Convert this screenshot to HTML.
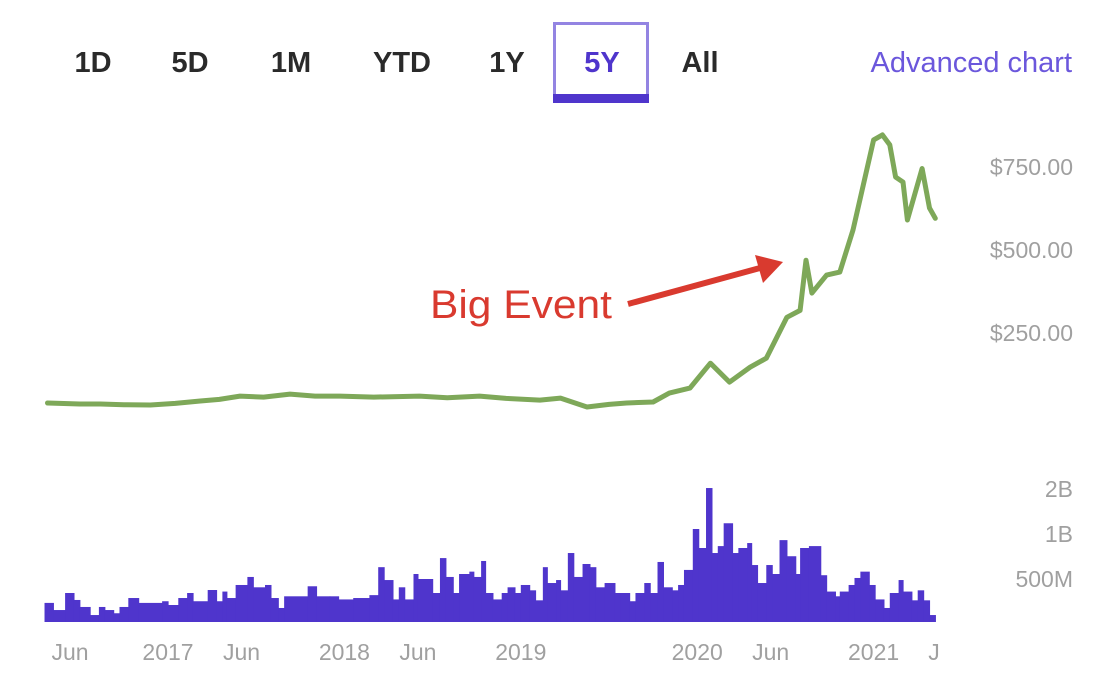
<!DOCTYPE html>
<html><head><meta charset="utf-8"><style>
body{margin:0;width:1098px;height:680px;background:#fff;overflow:hidden;font-family:"Liberation Sans",sans-serif}
svg{display:block}
</style></head><body>
<svg width="1098" height="680" viewBox="0 0 1098 680">
<g font-weight="bold" font-size="29" fill="#2a2a2a" text-anchor="middle">
<text x="93" y="72">1D</text>
<text x="190" y="72">5D</text>
<text x="291" y="72">1M</text>
<text x="402" y="72">YTD</text>
<text x="507" y="72">1Y</text>
<g>
<rect x="554.5" y="23.5" width="93" height="77" fill="none" stroke="#9384e2" stroke-width="3"/>
<rect x="553" y="94" width="96" height="9" fill="#4f35cc"/>
<text x="602" y="72" fill="#4f35cc">5Y</text>
</g>
<text x="700" y="72">All</text>
</g>
<text x="1072" y="72" text-anchor="end" font-size="29" fill="#6b57dc">Advanced chart</text>
<g id="yax" font-size="23" fill="#a0a0a0" text-anchor="end"></g>
<g id="vax" font-size="23" fill="#a0a0a0" text-anchor="end"></g>
<g id="xax" font-size="23" fill="#a0a0a0" text-anchor="middle"></g>
<g id="vol" fill="#4f35cc"></g>
<path id="line" fill="none" stroke="#7ea859" stroke-width="5" stroke-linejoin="round" stroke-linecap="round"/>
<text x="430" y="318" font-size="40" textLength="182" lengthAdjust="spacingAndGlyphs" fill="#d93a2f">Big Event</text>
<g>
<line x1="628" y1="304" x2="760" y2="268" stroke="#d93a2f" stroke-width="6"/>
<polygon points="783,262 755,255 763,283" fill="#d93a2f"/>
</g>
</svg>
<script>
// months since Jan 2017
const priceMonths=[-8.2,-6,-4.6,-3,-1.2,0.5,2.2,3.5,4.9,6.5,8.3,10,11.7,14,17.1,19,21.2,23,25.3,26.7,28.5,30,31.2,33.0,34.1,35.5,36.9,38.2,39.6,40.7,42.1,43.0,43.4,43.8,44.8,45.7,46.6,48.0,48.6,49.1,49.5,50.0,50.3,51.3,51.8,52.2];
const prices=[39,36,36,34,33,38,45,50,60,57,66,60,60,57,60,55,60,53,48,54,27,35,39,42,69,84,159,102,147,174,297,318,469,370,424,433,560,831,846,816,719,704,590,745,626,595];
const volMonths=[-8.4,-7.8,-7.0,-6.4,-6.0,-5.3,-4.7,-4.3,-3.7,-3.3,-2.7,-2.0,-0.4,0.0,0.7,1.3,1.7,2.7,3.3,3.7,4.0,4.6,5.4,5.8,6.6,7.0,7.5,7.9,9.5,10.1,11.0,11.6,12.6,13.7,14.3,14.7,15.3,15.7,16.1,16.7,17.0,18.0,18.5,18.9,19.4,19.8,20.5,20.8,21.3,21.6,22.1,22.7,23.1,23.6,24.0,24.6,25.0,25.5,25.8,26.4,26.7,27.2,27.6,28.2,28.7,29.1,29.7,30.4,30.8,31.4,31.8,32.4,32.8,33.3,33.7,34.3,34.7,35.1,35.7,36.1,36.6,37.0,37.4,37.8,38.4,38.8,39.4,39.7,40.1,40.7,41.1,41.6,42.1,42.7,43.0,43.6,44.4,44.8,45.4,45.7,46.3,46.7,47.1,47.7,48.1,48.7,49.1,49.7,50.0,50.6,51.0,51.4,51.8,52.2];
const volumes=[346,310,403,362,325,287,325,310,295,325,373,346,355,335,373,403,355,422,355,412,373,456,516,440,456,373,320,383,447,383,383,365,373,390,600,492,365,440,365,540,500,403,690,516,403,540,560,516,660,403,365,403,440,403,456,420,360,600,470,492,420,746,516,630,600,440,470,403,403,355,403,470,403,650,440,420,456,575,1080,806,2030,746,830,1180,746,806,870,620,470,620,540,910,710,540,806,830,530,412,383,412,456,508,560,456,365,320,403,492,412,360,420,360,287];
const priceTicks=[250,500,750];
const volTicks=[500,1000,2000];
const volTickLabels=["500M","1B","2B"];
const xTicks=[-7,0,5,12,17,24,36,41,48,53];
const xTickLabels=["Jun","2017","Jun","2018","Jun","2019","2020","Jun","2021","J"];
const NS="http://www.w3.org/2000/svg";
const X=m=>168+m*14.7;
const Y=p=>416-p/3.01;
const VY=v=>534-45*Math.log2(v/1000);
const yax=document.getElementById('yax'),vax=document.getElementById('vax'),xax=document.getElementById('xax'),vol=document.getElementById('vol');
priceTicks.forEach(p=>{const t=document.createElementNS(NS,'text');


t.setAttribute('x',1073);t.setAttribute('y',Y(p)+8);t.textContent='$'+p.toFixed(2);yax.appendChild(t);});
volTicks.forEach((v,i)=>{const t=document.createElementNS(NS,'text');


t.setAttribute('x',1073);t.setAttribute('y',VY(v)+8);t.textContent=volTickLabels[i];vax.appendChild(t);});
xTicks.forEach((m,i)=>{const t=document.createElementNS(NS,'text');


let x=X(m);if(i===xTickLabels.length-1)x=934;if(i===0)x=70;
t.setAttribute('x',x);t.setAttribute('y',660);t.textContent=xTickLabels[i];xax.appendChild(t);});
const base=622;
volumes.forEach((v,i)=>{const r=document.createElementNS(NS,'rect');


const y=Math.min(VY(v),base-2);
const xa=X(volMonths[i]),xb=X(volMonths[i+1]);
r.setAttribute('x',xa);r.setAttribute('width',xb-xa+0.6);r.setAttribute('y',y);r.setAttribute('height',base-y);vol.appendChild(r);});
document.getElementById('line').setAttribute('d',prices.map((p,i)=>(i?'L':'M')+X(priceMonths[i]).toFixed(1)+','+Y(p).toFixed(1)).join(''));
</script>
</body></html>
